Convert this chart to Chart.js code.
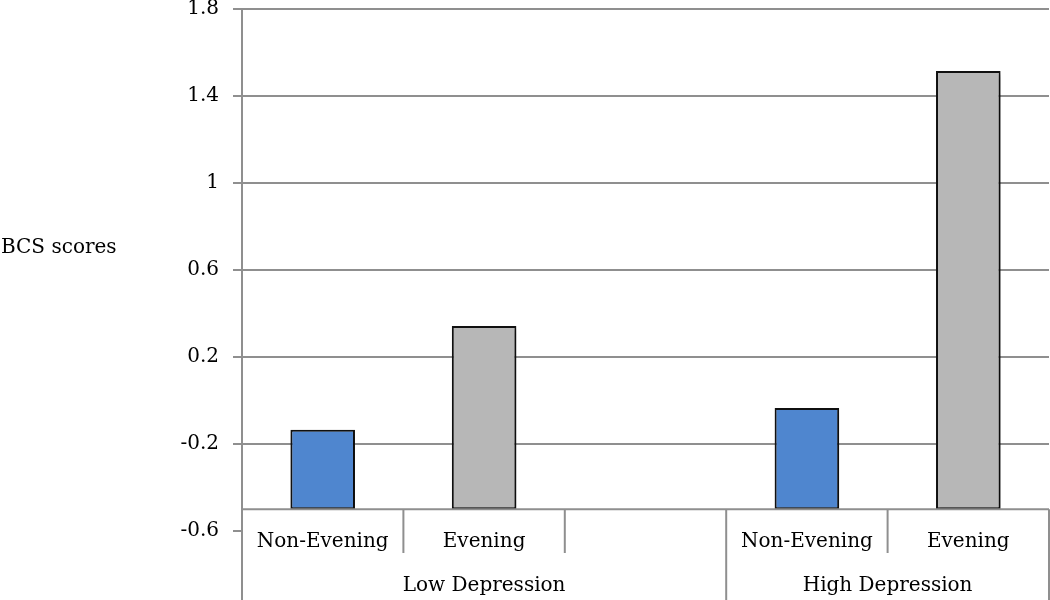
<!DOCTYPE html>
<html>
<head>
<meta charset="utf-8">
<script src="https://cdn.jsdelivr.net/npm/chart.js@4/dist/chart.umd.min.js"></script>
<style>
  html, body { margin: 0; padding: 0; background: #fff; }
  #wrap { width: 1050px; height: 600px; position: relative; }
</style>
</head>
<body>
<div id="wrap"><canvas id="chart"></canvas></div>
<script>
// categories (inner level) and their groups (outer level)
const categories = ['Non-Evening', 'Evening', '', 'Non-Evening', 'Evening'];
const groupLabels = ['Low Depression', 'High Depression'];
const groupSizes = [3, 2];

// BCS scores
const scores = [-0.135, 0.343, null, -0.034, 1.515];
const barColors = ['#4f86cf', '#b7b7b7', '#b7b7b7', '#4f86cf', '#b7b7b7'];

// value axis
const yMin = -0.6;
const yMax = 1.8;
const yStep = 0.4;
const axisBase = -0.5;   // where the category axis crosses
const yTitle = 'BCS scores';

const lineColor = '#8f8f8f';
const textColor = '#000';
const fontFamily = '"DejaVu Serif", serif';
const fontSize = 20;

// draws the two-level category axis and the horizontal axis title
const groupAxis = {
    id: 'groupAxis',
    afterDraw(chart) {
        const { ctx, chartArea, scales: { x, y } } = chart;
        const axisY = y.getPixelForValue(axisBase);
        const bottom = chart.height;
        const step = x.getPixelForValue(1) - x.getPixelForValue(0);
        const innerBottom = x.bottom;

        ctx.save();
        ctx.strokeStyle = lineColor;
        ctx.lineWidth = 2;
        ctx.beginPath();
        // category axis line
        ctx.moveTo(chartArea.left, axisY);
        ctx.lineTo(chartArea.right, axisY);
        // value axis continues down through the label rows
        ctx.moveTo(chartArea.left, chartArea.top);
        ctx.lineTo(chartArea.left, bottom);

        // separators between categories / groups
        let groupEnds = [];
        let acc = 0;
        groupSizes.forEach(n => { acc += n; groupEnds.push(acc); });
        for (let i = 1; i <= categories.length; i++) {
            const px = x.getPixelForValue(i - 1) + step / 2;
            ctx.moveTo(px, axisY);
            ctx.lineTo(px, groupEnds.includes(i) ? bottom : innerBottom);
        }
        ctx.stroke();

        // group labels
        ctx.fillStyle = textColor;
        ctx.font = `${fontSize}px ${fontFamily}`;
        ctx.textAlign = 'center';
        ctx.textBaseline = 'middle';
        let start = 0;
        groupSizes.forEach((n, gi) => {
            const x0 = x.getPixelForValue(start) - step / 2;
            const x1 = x.getPixelForValue(start + n - 1) + step / 2;
            ctx.fillText(groupLabels[gi], (x0 + x1) / 2, innerBottom + 33);
            start += n;
        });

        // horizontal y axis title
        ctx.textAlign = 'left';
        ctx.fillText(yTitle, 1, y.getPixelForValue(0.7));
        ctx.restore();
    }
};

// soft drop shadow under the bars
const barShadow = {
    id: 'barShadow',
    beforeDatasetsDraw(chart) {
        const ctx = chart.ctx;
        ctx.save();
        ctx.shadowColor = 'rgba(0,0,0,0.35)';
        ctx.shadowBlur = 5;
        ctx.shadowOffsetX = 2;
        ctx.shadowOffsetY = 3;
    },
    afterDatasetsDraw(chart) {
        chart.ctx.restore();
    }
};

new Chart(document.getElementById('chart'), {
    type: 'bar',
    data: {
        labels: categories,
        datasets: [{
            data: scores,
            base: axisBase,
            backgroundColor: barColors,
            borderColor: '#111',
            borderWidth: 2,
            borderSkipped: false,
            barPercentage: 0.4,
            categoryPercentage: 1.0
        }]
    },
    options: {
        responsive: true,
        maintainAspectRatio: false,
        animation: false,
        layout: { padding: { top: 9, right: 1, bottom: 47, left: 0 } },
        plugins: {
            legend: { display: false },
            tooltip: { enabled: false }
        },
        scales: {
            x: {
                grid: { display: false, drawTicks: false },
                border: { display: false },
                ticks: {
                    color: textColor,
                    font: { family: fontFamily, size: fontSize, lineHeight: 1.1 },
                    padding: 0,
                    maxRotation: 0,
                    autoSkip: false
                }
            },
            y: {
                min: yMin,
                max: yMax,
                afterFit: s => {
                    s.width = 242;
                    s.paddingTop = 0;
                    s.paddingBottom = 0;
                },
                border: { color: lineColor, width: 2 },
                grid: {
                    color: c => (c.tick && Math.abs(c.tick.value - yMin) < 1e-9) ? 'rgba(0,0,0,0)' : lineColor,
                    tickColor: lineColor,
                    lineWidth: 2,
                    tickLength: 9
                },
                ticks: {
                    stepSize: yStep,
                    color: textColor,
                    padding: 14,
                    font: { family: fontFamily, size: fontSize },
                    callback: v => {
                        const r = Math.round(v * 10) / 10;
                        return r === 1 ? '1' : r.toString();
                    }
                }
            }
        }
    },
    plugins: [groupAxis, barShadow]
});
</script>
</body>
</html>
